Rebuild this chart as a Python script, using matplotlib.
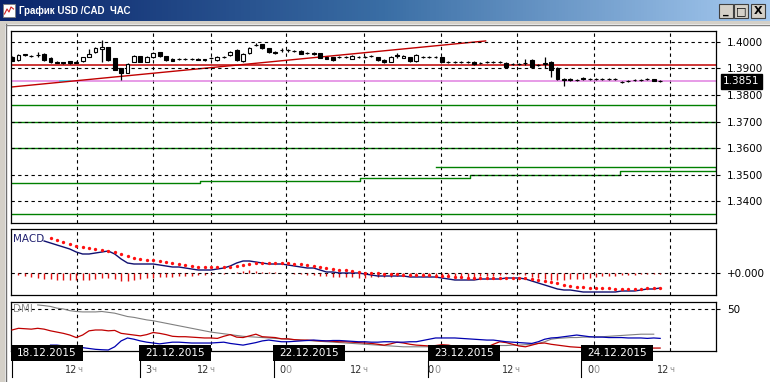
import matplotlib
matplotlib.use("Agg")
import matplotlib.pyplot as plt
import matplotlib.transforms as mtransforms
from matplotlib.colors import LinearSegmentedColormap
from matplotlib.patches import Rectangle
import numpy as np

W, H = 770, 382

# hourly candles, pips above 1.3800
opens = [143, 132, 150, 147, 150, 156, 140, 126, 123, 127, 121, 128, 145, 162, 172, 181, 138, 100, 84, 126,
         146, 126, 143, 162, 147, 135, 136, 136, 135, 137, 132, 140, 132, 143, 151, 170, 128, 158, 188, 192,
         177, 162, 170, 168, 166, 166, 158, 160, 158, 142, 143, 143, 143, 136, 143, 144, 147, 143, 132, 125,
         150, 140, 143, 130, 143, 143, 144, 143, 125, 125, 125, 125, 125, 121, 124, 125, 125, 121, 117, 117,
         119, 132, 113, 118, 125, 102, 62, 60, 57, 64, 60, 60, 60, 60, 60, 49, 53, 57, 57, 60, 60, 53]
closes = [130, 150, 154, 148, 151, 131, 124, 121, 119, 120, 124, 142, 156, 178, 182, 132, 96, 83, 116, 146,
          126, 143, 158, 147, 132, 130, 135, 137, 136, 133, 134, 139, 143, 144, 162, 132, 155, 177, 189, 177,
          162, 158, 168, 169, 165, 155, 157, 153, 140, 137, 132, 142, 144, 147, 143, 143, 146, 132, 125, 143,
          148, 147, 128, 152, 143, 144, 143, 125, 125, 124, 125, 124, 117, 121, 125, 125, 124, 106, 118, 118,
          120, 106, 112, 120, 94, 60, 57, 57, 57, 60, 60, 60, 60, 60, 60, 49, 53, 57, 57, 60, 53, 51]
highs = [148, 153, 156, 152, 162, 158, 142, 129, 126, 130, 127, 145, 172, 181, 208, 183, 140, 103, 119, 150,
         148, 146, 163, 164, 149, 138, 141, 141, 140, 140, 137, 144, 146, 148, 165, 175, 158, 180, 196, 194,
         179, 165, 176, 173, 170, 168, 162, 163, 160, 145, 145, 147, 148, 150, 148, 148, 151, 145, 134, 146,
         158, 150, 145, 155, 147, 148, 148, 145, 129, 129, 128, 128, 127, 125, 128, 129, 128, 123, 121, 121,
         136, 134, 116, 143, 127, 104, 64, 63, 61, 67, 64, 63, 64, 63, 64, 53, 56, 61, 60, 64, 62, 56]
lows = [128, 130, 148, 145, 143, 129, 122, 119, 117, 118, 119, 126, 143, 160, 126, 130, 93, 55, 82, 124,
        124, 124, 141, 145, 130, 128, 131, 132, 131, 131, 129, 135, 130, 140, 149, 130, 126, 156, 184, 175,
        160, 156, 162, 164, 162, 153, 154, 151, 138, 135, 130, 139, 140, 134, 139, 140, 143, 130, 122, 123,
        140, 138, 126, 125, 139, 140, 140, 123, 121, 121, 122, 121, 115, 118, 121, 122, 121, 104, 114, 114,
        113, 104, 109, 102, 68, 58, 34, 54, 54, 57, 57, 57, 57, 57, 57, 46, 50, 54, 54, 57, 51, 49]

price_ticks = [1.3400, 1.3500, 1.3600, 1.3700, 1.3800, 1.3900, 1.4000]
last_price = 1.3851

# horizontal levels drawn on the chart
red_level = 1.3913
pink_level = 1.3852
green_levels = [1.3762, 1.3700, 1.3600, 1.3351]
green_upper_level = 1.3529
green_upper_start = 66.0
# stepped green line (breakpoints)
step_x = [-0.16, 29.3, 54.2, 71.3, 94.7, 109.7]
step_y = [1.3468, 1.3476, 1.3487, 1.3498, 1.3513, 1.3525]
# trend line
trend_x = [-0.16, 73.8]
trend_y = [1.3830, 1.4004]
cyan_x = [7.5, 9.0]

# MACD (units of 1e-5)
macd_start = 5
macd = [32, 30, 28, 26, 24, 21, 19, 19, 20, 21, 22, 19, 14, 10, 9, 9, 9, 9, 8, 7,
        6, 6, 5, 4, 3, 3, 3, 4, 5, 7, 10, 12, 12, 11, 10, 9, 9, 9, 8, 7,
        6, 5, 5, 3, 1, 1, 0, 0, 0, 0, -1, -2, -3, -3, -3, -3, -3, -4, -4, -4,
        -4, -4, -5, -6, -7, -7, -7, -7, -6, -6, -6, -6, -5, -5, -5, -6, -8, -10, -12, -14,
        -16, -17, -17, -18, -19, -19, -19, -19, -19, -19, -18, -18, -18, -17, -16, -16, -15]
signal_start = 6
signal = [35, 33, 31, 29, 27, 26, 25, 24, 23, 22, 21, 19, 17, 15, 14, 13, 13, 12, 11, 10,
          9, 8, 7, 6, 6, 6, 6, 6, 6, 7, 8, 9, 10, 10, 10, 10, 10, 10, 9, 9,
          8, 7, 6, 5, 4, 3, 3, 2, 1, 0, 0, 0, -1, -1, -1, -2, -2, -2, -2, -2,
          -3, -3, -3, -4, -4, -5, -5, -5, -5, -5, -5, -5, -5, -5, -5, -6, -7, -8, -9, -10,
          -12, -13, -14, -14, -15, -15, -15, -15, -16, -16, -16, -16, -16, -15, -15, -15]
hist_start = 1
hist = [-2, -3, -4, -5, -6, -6, -7, -7, -7, -7, -7, -7, -6, -5, -5, -6, -8, -8, -7, -6,
        -5, -5, -4, -4, -4, -3, -3, -3, -2, -2, -1, 0, -1, 0, 1, 2, 3, 2, 1, 1,
        1, 0, 0, -1, -1, -2, -2, -3, -3, -4, -4, -4, -4, -5, -5, -4, -4, -4, -4, -3,
        -3, -3, -3, -3, -3, -3, -3, -4, -4, -4, -4, -4, -3, -3, -3, -2, -1, -1, -1, -2,
        -4, -5, -6, -7, -7, -7, -6, -6, -6, -5, -4, -3, -3, -3, -2, -2, -2, -1, -1, -1, -1]

# DMI
adx_start = 4
adx = [54.8, 54, 53, 51, 50, 48, 47, 46.5, 46.5, 46.5, 47, 46, 45, 43, 41, 40, 38.5, 37, 36, 34.5,
       33, 31.5, 30, 28.5, 27, 25.5, 24, 22.5, 21.5, 20.5, 19.5, 18.5, 17.5, 17, 16.5, 16, 15.5, 15, 14.5, 14,
       13.5, 13, 12.5, 12, 11.5, 11, 10.5, 10, 9.5, 9, 8.5, 8, 7.5, 7, 6.5, 6, 5.5, 5, 5, 5,
       5, 5, 5, 5, 5, 5, 5, 5, 5.5, 5.5, 6, 6, 6.5, 6.5, 7, 7, 7.5, 8, 9, 11,
       14, 15, 15.5, 16, 16, 16.5, 16.5, 17, 17, 17.5, 18, 18.5, 19, 19.5, 20, 20, 20]
di_red_start = 0
di_red = [25, 27, 26.5, 26, 27, 26, 24, 22.5, 21, 19, 16, 19, 24, 25, 25, 24, 24.5, 21, 20, 19,
          18, 19.5, 22, 21, 19.5, 17.5, 17, 17, 16.5, 16, 15.5, 15.5, 15, 17.5, 19.5, 16.5, 16, 18, 20, 17,
          16.5, 16, 14.5, 14.5, 13.5, 13, 13, 12.5, 12, 12, 11.5, 11, 11, 10.5, 10, 9.5, 9, 8, 7, 8.5,
          10.5, 9.5, 8, 7, 6.5, 6, 6.5, 7.5, 7, 5.5, 5, 4.5, 4, 4, 4.5, 8, 11, 10, 8, 6,
          5, 7, 9, 9.5, 8, 7, 6, 5, 4.5, 4, 4, 4, 3.5, 3.5, 3.5, 3.5, 4, 4, 3.5, 3.5, 3.5, 3.5]
di_blue_start = 6
di_blue = [7, 7, 6, 5.5, 5, 4, 3, 2, 1.5, 1.2, 5, 12, 15.5, 14, 12, 10.5, 9.5, 8.5, 9.5, 10.5,
           10.5, 10, 9.5, 9.5, 9.5, 9.5, 10, 10.5, 9, 8, 7, 8.5, 10, 12, 13, 12, 11, 11, 11.5, 12,
           12.5, 13, 12.5, 12, 12.5, 12.5, 12, 11.5, 11, 11, 10.5, 10.5, 11, 11, 10.5, 10.5, 11, 11, 12.5, 14,
           15.5, 15.5, 15.5, 15.5, 15, 14.5, 14, 13.5, 13, 13, 12, 11, 10.5, 10, 9.5, 9, 11, 14, 15.5, 16,
           17, 18, 19, 18, 17, 16.5, 16.5, 16, 16, 16, 15.5, 15.5, 15.5, 15, 15.5, 15]

# time axis
vgrid = [10.1, 22.0, 31.0, 42.7, 54.8, 66.8, 78.7, 90.7, 102.6]
dates = ["18.12.2015", "21.12.2015", "22.12.2015", "23.12.2015", "24.12.2015"]
date_pos = [-0.16, 19.8, 40.7, 64.8, 88.6]
hour_main = ["12", "3", "12", "0", "12", "0", "12", "0", "12"]
hour_suffix = ["ч", "ч", "ч", "0", "ч", "0", "ч", "0", "ч"]
hour_pos = [8.3, 20.7, 28.8, 41.6, 52.6, 64.8, 76.3, 89.6, 100.5]

XLIM = (-0.16, 109.7)
DASH = (0, (3, 3))


def px_box(left, top, width, height):
    return [left / W, 1 - (top + height) / H, width / W, height / H]


def style_panel(ax):
    ax.set_xlim(*XLIM)
    ax.set_xticks([])
    ax.yaxis.tick_right()
    ax.tick_params(axis="y", length=3, width=0.8, pad=5, labelsize=7.5, colors="black")
    for s in ax.spines.values():
        s.set_linewidth(0.9)
        s.set_color("black")
    for gx in vgrid:
        ax.axvline(gx, color="black", lw=0.8, ls=DASH, zorder=1)


fig = plt.figure(figsize=(W / 100, H / 100), dpi=100)
fig.patch.set_facecolor("white")

# window chrome
chrome = fig.add_axes([0, 0, 1, 1])
chrome.set_xlim(0, W)
chrome.set_ylim(H, 0)
chrome.axis("off")
tb = LinearSegmentedColormap.from_list("tb", ["#0a246a", "#3a6ea5", "#a6caf0"])
chrome.imshow(np.linspace(0, 1, 256).reshape(1, -1), cmap=tb, extent=[0, W, 21, 0], aspect="auto")
chrome.add_patch(Rectangle((0, 21), W, 3, fc="#d4d0c8", ec="none"))
chrome.add_patch(Rectangle((0, 21), 5, H, fc="#d4d0c8", ec="none"))
chrome.plot([5.5, 5.5], [24, H], color="#707070", lw=1)
chrome.plot([5.5, W], [24.5, 24.5], color="#808080", lw=1)
chrome.add_patch(Rectangle((3, 4), 12, 13, fc="white", ec="#808080", lw=0.6))
chrome.plot([4.5, 7, 9, 11, 13.5], [14, 9, 12, 7, 9], color="#d02020", lw=0.8)
chrome.text(19, 11, "График USD /CAD  ЧАС", color="white", fontsize=7, fontweight="bold",
            family=["Liberation Sans", "DejaVu Sans"], va="center", ha="left")
for bx, glyph in zip([719, 734, 751], ["_", "□", "X"]):
    chrome.add_patch(Rectangle((bx, 4), 14, 14, fc="#d4d0c8", ec="#404040", lw=0.8))
    chrome.text(bx + 7, 11.5, glyph, fontsize=8, ha="center", va="center", color="black",
                fontweight="bold")

# price panel
ax_p = fig.add_axes(px_box(11, 31, 705, 192))
style_panel(ax_p)
ax_p.set_ylim(1.3317, 1.40415)
ax_p.set_yticks(price_ticks)
ax_p.set_yticklabels(["%.4f" % v for v in price_ticks])
for gy in price_ticks:
    ax_p.axhline(gy, color="black", lw=0.8, ls=DASH, zorder=3)
for gl in green_levels:
    ax_p.axhline(gl, color="#008000", lw=1.0, zorder=2)
ax_p.plot(step_x, step_y, color="#008000", lw=1.0, drawstyle="steps-post", zorder=2)
ax_p.plot([green_upper_start, XLIM[1]], [green_upper_level] * 2, color="#008000", lw=1.0, zorder=2)
ax_p.axhline(red_level, color="#c00000", lw=1.1, zorder=2)
ax_p.axhline(pink_level, color="#e080e0", lw=1.1, zorder=2)
ax_p.plot(cyan_x, [pink_level] * 2, color="#40e0f0", lw=1.2, zorder=2)
ax_p.plot(trend_x, trend_y, color="#c00000", lw=1.0, zorder=2)

idx = np.arange(len(opens))
o = 1.38 + np.array(opens) / 10000
c = 1.38 + np.array(closes) / 10000
hi = 1.38 + np.array(highs) / 10000
lo = 1.38 + np.array(lows) / 10000
ax_p.vlines(idx, lo, hi, color="black", lw=0.9, zorder=4)
up = c >= o
body = np.maximum(np.abs(c - o), 0.00003)
ax_p.bar(idx[up], body[up], bottom=np.minimum(o, c)[up], width=0.6, color="white",
         edgecolor="black", lw=0.8, zorder=5)
ax_p.bar(idx[~up], body[~up], bottom=np.minimum(o, c)[~up], width=0.6, color="black",
         edgecolor="black", lw=0.8, zorder=5)

trans = mtransforms.blended_transform_factory(ax_p.transAxes, ax_p.transData)
ax_p.text(1.0 + 7 / 705, last_price, "%.4f" % last_price, transform=trans, color="white",
          fontsize=7.5, va="center", ha="left", zorder=10,
          bbox=dict(boxstyle="square,pad=0.2", fc="black", ec="black"))

# MACD panel
ax_m = fig.add_axes(px_box(11, 229, 705, 66))
style_panel(ax_m)
ax_m.set_ylim(-0.00022, 0.00044)
ax_m.set_yticks([0])
ax_m.set_yticklabels(["+0.000"])
ax_m.axhline(0, color="black", lw=0.8, ls=DASH, zorder=2)
hx = np.arange(hist_start, hist_start + len(hist))
ax_m.vlines(hx, 0, np.array(hist) * 1e-5, color="#e01010", lw=1.0, zorder=3)
mx = np.arange(macd_start, macd_start + len(macd))
ax_m.plot(mx, np.array(macd) * 1e-5, color="#101070", lw=1.0, zorder=4)
sx = np.arange(signal_start, signal_start + len(signal))
ax_m.plot(sx, np.array(signal) * 1e-5, ls="none", marker="o", ms=2.4, color="#ff1010",
          mec="none", zorder=5)
ax_m.text(0.003, 0.93, "MACD", transform=ax_m.transAxes, fontsize=7.5, color="#202070",
          va="top", ha="left", zorder=6)

# DMI panel
ax_d = fig.add_axes(px_box(11, 302, 705, 49))
style_panel(ax_d)
ax_d.set_ylim(0, 58.3)
ax_d.set_yticks([50])
ax_d.set_yticklabels(["50"])
ax_d.axhline(50, color="black", lw=0.8, ls=DASH, zorder=2)
ax_d.plot(np.arange(adx_start, adx_start + len(adx)), adx, color="#808080", lw=0.8, zorder=3)
ax_d.plot(np.arange(di_red_start, di_red_start + len(di_red)), di_red, color="#c00000", lw=0.9, zorder=4)
ax_d.plot(np.arange(di_blue_start, di_blue_start + len(di_blue)), di_blue, color="#0000b0", lw=0.9, zorder=4)
ax_d.text(0.003, 0.95, "DMI", transform=ax_d.transAxes, fontsize=7.5, color="#909090",
          va="top", ha="left", zorder=6)

# time scale
ax_t = fig.add_axes(px_box(11, 340, 705, 42))
ax_t.set_xlim(*XLIM)
ax_t.set_ylim(382, 340)
ax_t.axis("off")
ax_t.patch.set_alpha(0)
ax_t.set_zorder(5)
box_w = 72 / 6.42
for d, x in zip(dates, date_pos):
    ax_t.add_patch(Rectangle((x, 345), box_w, 16, fc="black", ec="none", clip_on=False))
    ax_t.text(x + box_w / 2, 353.5, d, color="white", fontsize=7.5, ha="center", va="center")
    ax_t.plot([x + 0.08, x + 0.08], [361, 377], color="black", lw=0.8, clip_on=False)
for m, s, x in zip(hour_main, hour_suffix, hour_pos):
    ax_t.text(x, 370, m, fontsize=7, color="#303030", ha="left", va="center")
    ax_t.annotate(s, xy=(x, 370), xytext=(len(m) * 4.5, 0), textcoords="offset points",
                  fontsize=6 if s == "ч" else 7, color="#909090", ha="left", va="center")

fig.savefig("out.png", dpi=100)
